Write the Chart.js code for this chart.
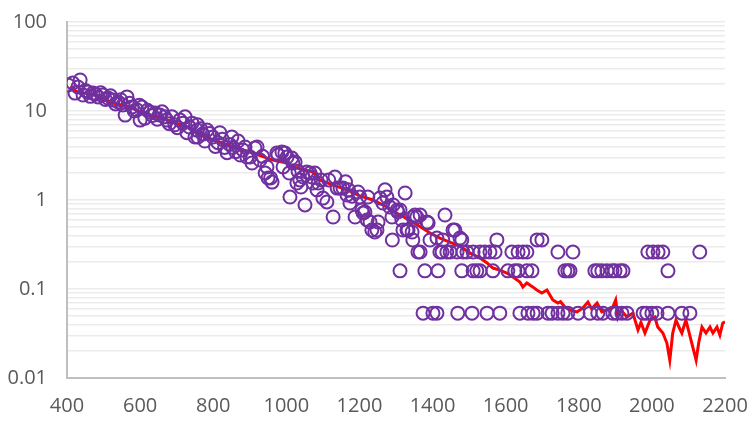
<!DOCTYPE html>
<html>
<head>
<meta charset="utf-8">
<script src="https://cdn.jsdelivr.net/npm/chart.js@4/dist/chart.umd.min.js"></script>
<style>
  body { margin: 0; background: #ffffff; }
  #chart { display: block; }
</style>
</head>
<body>
<canvas id="chart" width="754" height="421"></canvas>
<script>
// axis ticks
const xTicks = [400, 600, 800, 1000, 1200, 1400, 1600, 1800, 2000, 2200];
const yDecades = [0.01, 0.1, 1, 10, 100];

// measured points (open circles)
const sx = [
  403, 416, 422, 430, 436, 444, 450, 457, 464, 471, 478, 485, 492, 498, 505, 512, 519, 526, 533, 540,
  547, 553, 559, 564, 571, 578, 584, 591, 598, 600, 605, 613, 620, 627, 634, 641, 647, 654, 660, 667,
  673, 680, 687, 695, 702, 709, 717, 723, 728, 735, 742, 750, 756, 757, 758, 765, 771, 777, 783, 790,
  799, 806, 813, 818, 825, 831, 838, 845, 851, 854, 861, 868, 874, 881, 887, 892, 901, 906, 914, 920,
  928, 935, 942, 947, 950, 957, 961, 974, 977, 988, 991, 996, 1002, 1008, 1010, 1015, 1018, 1024, 1029, 1032,
  1037, 1040, 1046, 1051, 1056, 1065, 1070, 1073, 1078, 1084, 1087, 1095, 1100, 1111, 1116, 1128, 1133, 1139, 1147, 1155,
  1162, 1166, 1170, 1174, 1180, 1188, 1196, 1201, 1207, 1210, 1215, 1221, 1223, 1229, 1234, 1242, 1248, 1251, 1256, 1264,
  1270, 1275, 1283, 1289, 1290, 1292, 1303, 1305, 1311, 1316, 1319, 1325, 1330, 1333, 1344, 1346, 1346, 1352, 1357, 1366,
  1385, 1388, 1393, 1412, 1428, 1434, 1456, 1461, 1475, 1480, 1576, 1686, 1699,
  // 0.26 level
  1360, 1366, 1420, 1426, 1439, 1448, 1467, 1483, 1494, 1511, 1530, 1543, 1557, 1571, 1617, 1634, 1647, 1658, 1743, 1784,
  1989, 2003, 2017, 2030, 2131,
  // 0.16 level
  1311, 1379, 1415, 1480, 1511, 1521, 1530, 1565, 1606, 1625, 1634, 1658, 1672, 1762, 1770, 1776, 1844, 1852, 1863, 1877,
  1891, 1899, 1913, 1921, 2044,
  // 0.053 level
  1374, 1401, 1412, 1469, 1508, 1549, 1584, 1639, 1661, 1675, 1686, 1716, 1727, 1743, 1757, 1770, 1798, 1831, 1852, 1866,
  1893, 1904, 1918, 1932, 1976, 1986, 2000, 2014, 2044, 2082, 2104
];
const sy = [
  19.6, 20.6, 15.9, 18.6, 22.3, 15.1, 17.0, 16.4, 14.6, 15.9, 15.4, 14.4, 16.0, 15.1, 13.5, 14.0, 14.8, 13.3, 12.0, 12.6,
  13.4, 11.7, 9.0, 14.4, 12.2, 11.1, 10.0, 10.3, 11.6, 7.9, 11.1, 8.3, 10.2, 9.7, 8.9, 9.5, 8.1, 9.0, 9.8, 8.6,
  7.9, 7.2, 8.6, 7.0, 6.5, 7.9, 7.3, 8.6, 5.7, 6.6, 7.3, 5.1, 6.1, 7.0, 5.1, 6.3, 5.5, 4.6, 6.1, 5.6,
  5.1, 4.0, 4.4, 5.7, 4.8, 3.9, 3.4, 4.2, 5.1, 3.9, 3.5, 4.6, 3.2, 3.65, 3.94, 3.04, 3.04, 2.6, 3.84, 3.94,
  2.81, 3.1, 2.01, 2.35, 1.77, 1.77, 1.59, 3.37, 3.2, 3.46, 2.35, 3.37, 3.04, 2.01, 1.08, 2.96, 2.6, 2.67, 1.55, 2.1,
  1.68, 1.4, 1.81, 0.879, 2.06, 2.01, 1.81, 1.55, 2.01, 1.3, 1.55, 1.68, 1.05, 0.95, 1.68, 0.644, 1.81, 1.36, 1.36, 1.36,
  1.6, 1.14, 1.3, 0.925, 1.1, 0.644, 1.23, 1.08, 0.772, 0.714, 0.733, 0.596, 1.08, 0.566, 0.46, 0.437, 0.46, 0.566, 1.05, 0.925,
  1.3, 1.08, 0.834, 0.644, 0.355, 0.879, 0.772, 0.733, 0.772, 0.596, 0.46, 1.2, 0.46, 0.46, 0.437, 0.644, 0.355, 0.678, 0.644, 0.678,
  0.566, 0.551, 0.355, 0.374, 0.356, 0.678, 0.46, 0.46, 0.374, 0.356, 0.356, 0.356, 0.356,
  0.26, 0.26, 0.26, 0.26, 0.26, 0.26, 0.26, 0.26, 0.26, 0.26, 0.26, 0.26, 0.26, 0.26, 0.26, 0.26, 0.26, 0.26, 0.26, 0.26,
  0.26, 0.26, 0.26, 0.26, 0.26,
  0.16, 0.16, 0.16, 0.16, 0.16, 0.16, 0.16, 0.16, 0.16, 0.16, 0.16, 0.16, 0.16, 0.16, 0.16, 0.16, 0.16, 0.16, 0.16, 0.16,
  0.16, 0.16, 0.16, 0.16, 0.16,
  0.0535, 0.0535, 0.0535, 0.0535, 0.0535, 0.0535, 0.0535, 0.0535, 0.0535, 0.0535, 0.0535, 0.0535, 0.0535, 0.0535, 0.0535, 0.0535, 0.0535, 0.0535, 0.0535, 0.0535,
  0.0535, 0.0535, 0.0535, 0.0535, 0.0535, 0.0535, 0.0535, 0.0535, 0.0535, 0.0535, 0.0535
];

// fitted curve (red)
const lx = [
  408, 427, 482, 526, 572, 600, 673, 728, 764, 799, 854, 909, 963, 1002, 1029, 1073, 1092, 1128, 1166, 1201,
  1237, 1275, 1311, 1346, 1393, 1420, 1447, 1475, 1502, 1530, 1549, 1565, 1584, 1603, 1620, 1639, 1647, 1658, 1667, 1675,
  1685, 1699, 1713, 1721, 1729, 1743, 1750, 1762, 1776, 1795, 1811, 1825, 1835, 1850, 1863, 1877, 1893, 1901, 1907, 1915,
  1932, 1948, 1962, 1970, 1981, 1995, 2008, 2016, 2030, 2041, 2049, 2057, 2066, 2074, 2082, 2093, 2107, 2121, 2128, 2137,
  2148, 2159, 2167, 2178, 2186, 2194, 2200
];
const ly = [
  18.6, 16.4, 15.1, 12.3, 11.1, 9.74, 7.92, 6.61, 5.38, 4.72, 3.94, 3.37, 2.81, 2.6, 2.29, 2.06, 1.68, 1.47, 1.3, 1.11,
  1.0, 0.834, 0.678, 0.566, 0.426, 0.374, 0.337, 0.304, 0.254, 0.223, 0.196, 0.172, 0.163, 0.151, 0.136, 0.12, 0.105, 0.117, 0.11, 0.105,
  0.0975, 0.0902, 0.0975, 0.0857, 0.0752, 0.0696, 0.072, 0.0628, 0.0581, 0.0552, 0.0611, 0.0714, 0.06, 0.0696, 0.0552, 0.0581, 0.0628, 0.0752, 0.0485, 0.058,
  0.0485, 0.0537, 0.0346, 0.042, 0.032, 0.0449, 0.0485, 0.0374, 0.032, 0.0247, 0.0159, 0.032, 0.0449, 0.0374, 0.032, 0.0449, 0.0267, 0.0159, 0.0247, 0.0374,
  0.032, 0.0374, 0.032, 0.0374, 0.0304, 0.0415, 0.0426
];

const pointData = sx.map((x, i) => ({ x: x, y: sy[i] }));
const lineData = lx.map((x, i) => ({ x: x, y: ly[i] }));

// every 1..9 step of each decade gets a grid line, only decades get a label
const yGridValues = [];
yDecades.forEach((d, i) => {
  if (i === yDecades.length - 1) { yGridValues.push(d); return; }
  for (let k = 1; k <= 9; k++) yGridValues.push(+(d * k).toPrecision(3));
});

const tickFont = { family: '"Open Sans", sans-serif', size: 20 };

new Chart(document.getElementById('chart'), {
  type: 'scatter',
  data: {
    datasets: [
      {
        label: 'points',
        data: pointData,
        pointStyle: 'circle',
        pointRadius: 6.5,
        pointBorderWidth: 2,
        pointBorderColor: '#7030A0',
        pointBackgroundColor: 'rgba(0,0,0,0)',
        order: 0
      },
      {
        label: 'fit',
        data: lineData,
        showLine: true,
        borderColor: '#FF0000',
        borderWidth: 3,
        pointRadius: 0,
        tension: 0,
        order: 1
      }
    ]
  },
  options: {
    responsive: false,
    animation: false,
    layout: { padding: { top: 22, right: 29, left: 0, bottom: 0 } },
    plugins: {
      legend: { display: false },
      tooltip: { enabled: false }
    },
    scales: {
      x: {
        type: 'linear',
        min: 400,
        max: 2200,
        afterBuildTicks: (scale) => { scale.ticks = xTicks.map(v => ({ value: v })); },
        afterFit: (scale) => {
          scale.height = 43;
          // end labels may overhang; the outer padding handles it
          scale.paddingLeft = 0;
          scale.paddingRight = 0;
        },
        grid: { display: true, drawOnChartArea: false, drawTicks: false },
        border: { display: true, color: '#BFBFBF', width: 2 },
        ticks: {
          color: '#595959', font: tickFont, padding: 16, maxRotation: 0, autoSkip: false,
          callback: (v) => String(v)
        }
      },
      y: {
        type: 'logarithmic',
        min: 0.01,
        max: 100,
        afterBuildTicks: (scale) => { scale.ticks = yGridValues.map(v => ({ value: v })); },
        afterFit: (scale) => {
          scale.width = 67;
          scale.paddingTop = 0;
          scale.paddingBottom = 0;
        },
        grid: { color: '#EBEBEB', lineWidth: 1.5, drawTicks: false },
        border: { display: true, color: '#BFBFBF', width: 2 },
        ticks: {
          color: '#595959',
          font: tickFont,
          padding: 20,
          autoSkip: false,
          callback: (v) => yDecades.includes(v) ? String(v) : ''
        }
      }
    }
  }
});
</script>
</body>
</html>
